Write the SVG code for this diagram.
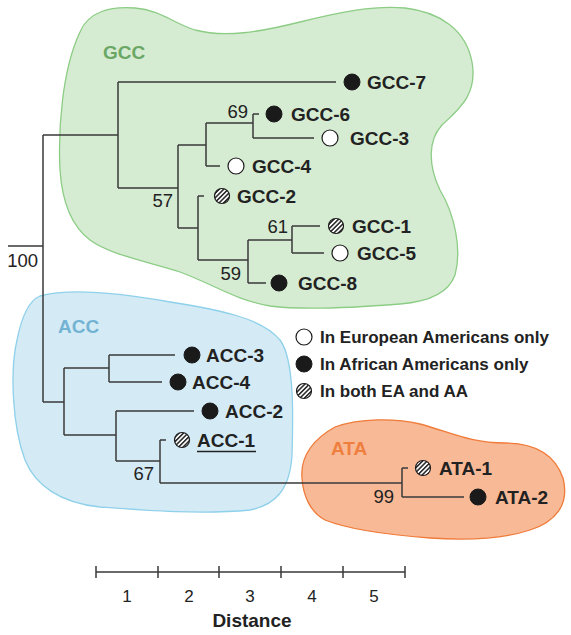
<svg xmlns="http://www.w3.org/2000/svg" width="571" height="635" viewBox="0 0 571 635">
<defs>
<pattern id="hatch" patternUnits="userSpaceOnUse" width="3.2" height="3.2" patternTransform="rotate(45)">
<rect width="3.2" height="3.2" fill="#fff"/>
<line x1="0.8" y1="0" x2="0.8" y2="3.2" stroke="#222" stroke-width="1.5"/>
</pattern>
<style>
.br{fill:none;stroke:#3a3a3a;stroke-width:1.5}
.lab{font-family:"Liberation Sans",Arial,sans-serif;font-weight:bold;font-size:19px;fill:#222}
.num{font-family:"Liberation Sans",Arial,sans-serif;font-size:18.5px;fill:#222}
.leg{font-family:"Liberation Sans",Arial,sans-serif;font-weight:bold;font-size:17px;fill:#222}
.blk{fill:#1a1a1a;stroke:#1a1a1a;stroke-width:1}
.wht{fill:#fff;stroke:#1a1a1a;stroke-width:1.2}
.hat{fill:url(#hatch);stroke:#1a1a1a;stroke-width:1.2}
</style>
</defs>
<rect width="571" height="635" fill="#fff"/>
<g id="clusters">
<g id="cluster-gcc">
<path d="M 80,32 C 88,12 110,6 135,8 C 160,10 175,24 195,30 C 225,38 260,32 300,22 C 340,12 375,5 405,8 C 440,12 466,30 472,62 C 478,95 458,110 442,125 C 428,140 428,165 440,190 C 455,215 462,250 455,275 C 448,295 425,302 400,304 C 350,308 300,310 270,306 C 235,300 215,285 180,272 C 150,262 110,255 90,240 C 70,225 62,200 60,170 C 58,130 62,70 80,32 Z" fill="#d6ecd2" stroke="#8ccc85" stroke-width="1.3"/>
<text x="103" y="59" class="lab" style="fill:#6aa765">GCC</text>
</g>
<g id="cluster-acc">
<path d="M 40,296 C 70,288 120,293 170,302 C 220,310 262,318 280,340 C 295,360 293,420 292,455 C 290,490 275,505 250,510 C 200,515 140,510 100,507 C 60,503 35,485 25,460 C 12,425 10,370 17,340 C 22,315 30,300 40,296 Z" fill="#d4ebf6" stroke="#8fd0ea" stroke-width="1.3"/>
<text x="58" y="333" class="lab" style="fill:#72b3d3">ACC</text>
</g>
<g id="cluster-ata">
<path d="M 302,478 C 300,455 315,438 335,427 C 360,418 395,418 420,424 C 450,432 470,443 505,443 C 535,443 555,455 563,478 C 570,505 555,522 530,530 C 500,540 460,540 430,538 C 390,535 350,530 325,520 C 310,512 303,495 302,478 Z" fill="#f8b996" stroke="#ef7b3a" stroke-width="1.3"/>
<text x="331" y="455" class="lab" style="fill:#ee7f3e">ATA</text>
</g>
</g>
<g id="connectors">
<path class="br" d="M 8,246 H 43 M 43,135 V 402 M 43,135 H 118 M 118,82 V 188 M 118,82 H 336 M 118,188 H 178 M 178,145 V 228 M 178,145 H 206 M 206,123 V 166 M 206,123 H 253 M 253,114 V 138 M 253,114 H 259 M 253,138 H 314 M 206,166 H 220 M 178,228 H 198 M 198,196 V 260 M 198,196 H 204 M 198,260 H 248 M 248,240 V 283 M 248,240 H 292 M 292,226 V 253 M 292,226 H 320 M 292,253 H 324 M 248,283 H 266"/>
<path class="br" d="M 43,402 H 64 M 64,368 V 435 M 64,368 H 109 M 109,355 V 382 M 109,355 H 175 M 109,382 H 162 M 64,435 H 116 M 116,411 V 461 M 116,411 H 194 M 116,461 H 160 M 160,440 V 483 M 160,440 H 166 M 160,483 H 402 M 402,468 V 497 M 402,468 H 408 M 402,497 H 464"/>
</g>
<g id="support">
<text x="38" y="267" class="num" text-anchor="end">100</text>
<text x="248" y="118" class="num" text-anchor="end">69</text>
<text x="173" y="207" class="num" text-anchor="end">57</text>
<text x="288" y="233" class="num" text-anchor="end">61</text>
<text x="241" y="280" class="num" text-anchor="end">59</text>
<text x="154" y="480" class="num" text-anchor="end">67</text>
<text x="394" y="503" class="num" text-anchor="end">99</text>
</g>
<g id="GCC-7"><circle cx="352" cy="82" r="8" class="blk"/><text x="367" y="89" class="lab">GCC-7</text></g>
<g id="GCC-6"><circle cx="274" cy="114" r="8" class="blk"/><text x="291" y="121" class="lab">GCC-6</text></g>
<g id="GCC-3"><circle cx="330" cy="138" r="8" class="wht"/><text x="350" y="145" class="lab">GCC-3</text></g>
<g id="GCC-4"><circle cx="236" cy="166" r="8" class="wht"/><text x="252" y="173" class="lab">GCC-4</text></g>
<g id="GCC-2"><circle cx="222" cy="196" r="7.5" class="hat"/><text x="237" y="203" class="lab">GCC-2</text></g>
<g id="GCC-1"><circle cx="336" cy="226" r="7.5" class="hat"/><text x="352" y="233" class="lab">GCC-1</text></g>
<g id="GCC-5"><circle cx="340" cy="253" r="8" class="wht"/><text x="357" y="260" class="lab">GCC-5</text></g>
<g id="GCC-8"><circle cx="279" cy="283" r="8" class="blk"/><text x="298" y="290" class="lab">GCC-8</text></g>
<g id="ACC-3"><circle cx="192" cy="355" r="8" class="blk"/><text x="206" y="362" class="lab">ACC-3</text></g>
<g id="ACC-4"><circle cx="178" cy="382" r="8" class="blk"/><text x="192" y="389" class="lab">ACC-4</text></g>
<g id="ACC-2"><circle cx="210" cy="411" r="8" class="blk"/><text x="225" y="418" class="lab">ACC-2</text></g>
<g id="ACC-1"><circle cx="182" cy="440" r="7.5" class="hat"/><text x="197" y="447" class="lab">ACC-1</text><line x1="197" y1="451.5" x2="256" y2="451.5" stroke="#222" stroke-width="1.5"/></g>
<g id="ATA-1"><circle cx="423" cy="468" r="7.5" class="hat"/><text x="439" y="475" class="lab">ATA-1</text></g>
<g id="ATA-2"><circle cx="478" cy="497" r="8" class="blk"/><text x="495" y="504" class="lab">ATA-2</text></g>
<g id="legend">
<circle cx="304" cy="337" r="8" class="wht"/><text x="320" y="343" class="leg">In European Americans only</text>
<circle cx="304" cy="364" r="8" class="blk"/><text x="320" y="370" class="leg">In African Americans only</text>
<circle cx="304" cy="391" r="7.5" class="hat"/><text x="320" y="397" class="leg">In both EA and AA</text>
</g>
<g id="scale">
<path class="br" d="M 96,572 H 405 M 96,566 V 578 M 158,566 V 578 M 219,566 V 578 M 281,566 V 578 M 343,566 V 578 M 405,566 V 578"/>
<text x="127" y="602" class="num" text-anchor="middle" style="font-size:17px">1</text>
<text x="189" y="602" class="num" text-anchor="middle" style="font-size:17px">2</text>
<text x="250" y="602" class="num" text-anchor="middle" style="font-size:17px">3</text>
<text x="312" y="602" class="num" text-anchor="middle" style="font-size:17px">4</text>
<text x="374" y="602" class="num" text-anchor="middle" style="font-size:17px">5</text>
<text x="252" y="627" class="lab" text-anchor="middle">Distance</text>
</g>
</svg>
